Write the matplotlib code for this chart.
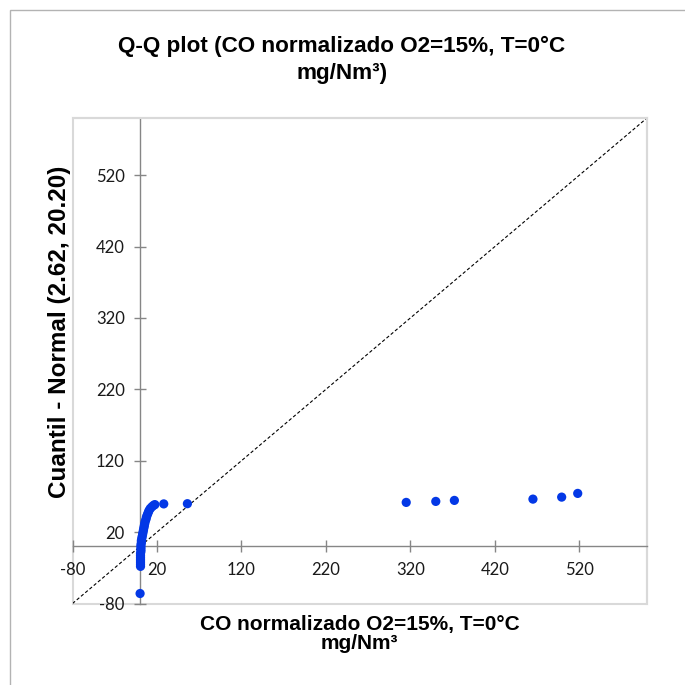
import matplotlib
matplotlib.use("Agg")
import matplotlib.pyplot as plt
from matplotlib.patches import Rectangle

# Sorted CO values (mg/Nm³) against normal quantiles N(2.62, 20.20)
co_values = [0, 0.5, 0.5, 0.5, 0.5, 0.5, 0.5, 0.5, 1, 1, 1, 1, 1.5, 1.5, 2, 2.5,
             3, 3.5, 4, 4.5, 5, 5.5, 6, 7, 7.5, 8.5, 9.5, 10.5, 12, 14, 16, 17.5,
             28, 56, 315, 350, 372, 465, 499, 518]
normal_quantiles = [-66, -28, -25, -22, -19, -16, -13, -10, -7, -4, -1, 2, 5, 8, 11, 14,
                    17, 20, 23, 26, 29, 32, 35, 38, 41, 44, 47, 50, 53, 55.5, 57.5, 58.5,
                    59.5, 59.8, 61.6, 63, 64.4, 66.2, 69, 74.2]

axis_min, axis_max = -80, 600
tick_values = [-80, 20, 120, 220, 320, 420, 520]

title_text = "Q-Q plot (CO normalizado O2=15%, T=0°C\nmg/Nm³)"
x_label = "CO normalizado O2=15%, T=0°C\nmg/Nm³"
y_label = "Cuantil - Normal (2.62, 20.20)"

W = H = 685
fig = plt.figure(figsize=(6.85, 6.85), dpi=100)

# chart frame
fig.patches.append(Rectangle((10 / W, -0.1), 1.2, 1 - 10 / H + 0.1,
                             transform=fig.transFigure, fill=False,
                             edgecolor="#b3b3b3", linewidth=1.0))

left, right, top, bottom = 72.5, 647, 118, 603.5
ax = fig.add_axes([left / W, 1 - bottom / H, (right - left) / W, (bottom - top) / H])
ax.set_xlim(axis_min, axis_max)
ax.set_ylim(axis_min, axis_max)

# plot-area border
for s in ("top", "right"):
    ax.spines[s].set_color("#d9d9d9")
    ax.spines[s].set_linewidth(1.5)
ax.add_patch(Rectangle((0, 0), 1, 1, transform=ax.transAxes, fill=False,
                       edgecolor="#d9d9d9", linewidth=1.5, zorder=0.5, clip_on=False))

# axes crossing at zero
ax.spines["left"].set_position(("data", 0))
ax.spines["bottom"].set_position(("data", 0))
for s in ("left", "bottom"):
    ax.spines[s].set_color("#868686")
    ax.spines[s].set_linewidth(1.0)

ax.set_xticks(tick_values)
ax.set_yticks(tick_values)
ax.set_xticklabels([str(v) for v in tick_values])
ax.set_yticklabels([str(v) for v in tick_values])
ax.tick_params(direction="inout", length=8, width=1.0, color="#868686",
               labelsize=12, labelcolor="#1a1a1a", pad=7)
for lab in ax.get_xticklabels() + ax.get_yticklabels():
    lab.set_family("Lato")

# reference line y = x
ax.plot([axis_min, axis_max], [axis_min, axis_max], color="black",
        linewidth=0.8, dashes=(3, 2), zorder=2)

ax.scatter(co_values, normal_quantiles, s=44, color="#0338e6",
           edgecolors="none", zorder=3, clip_on=False)

fig.text(342 / W, 1 - 60 / H, title_text, ha="center", va="center",
         fontsize=16.2, fontweight="bold", family="Liberation Sans",
         linespacing=1.35)

fig.text(359.5 / W, 1 - 634 / H, x_label, ha="center", va="center",
         fontsize=15, fontweight="bold", family="Liberation Sans",
         linespacing=1.0)
fig.text(60 / W, 1 - 332 / H, y_label, ha="center", va="center",
         rotation=90, fontsize=17.5, fontweight="bold", family="Liberation Sans")

fig.savefig("out.png", dpi=100, facecolor="white")
